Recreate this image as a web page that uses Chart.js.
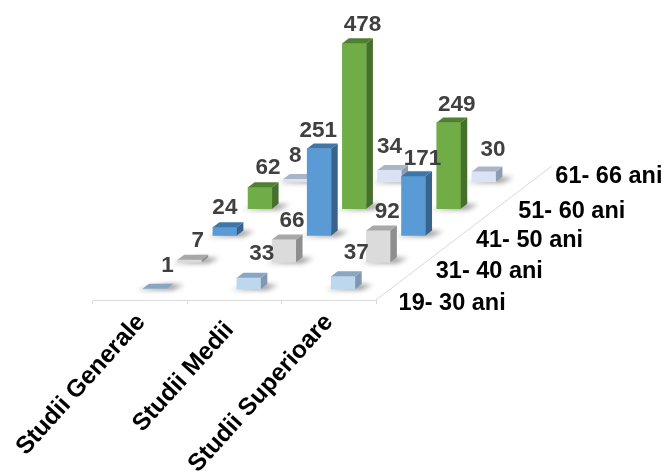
<!DOCTYPE html>
<html>
<head>
<meta charset="utf-8">
<title>Chart</title>
<script src="https://cdn.jsdelivr.net/npm/chart.js@4"></script>
<style>
  html, body { margin: 0; padding: 0; background: #fff; }
  canvas { display: block; }
</style>
</head>
<body>
<canvas id="myChart" width="666" height="471"></canvas>
<script>
var categories = ['Studii Generale', 'Studii Medii', 'Studii Superioare'];
var ageGroups = ['19- 30 ani', '31- 40 ani', '41- 50 ani', '51- 60 ani', '61- 66 ani'];
var ani19to30 = [1, 33, 37];
var ani31to40 = [7, 66, 92];
var ani41to50 = [24, 251, 171];
var ani51to60 = [62, 478, 249];
var ani61to66 = [8, 34, 30];
var seriesValues = [ani19to30, ani31to40, ani41to50, ani51to60, ani61to66];

// front, top and side colour of each row
var frontColors = ['#bdd7ee', '#dbdbdb', '#5b9bd5', '#70ad47', '#dae3f3'];
var topColors = ['#8aa5c0', '#a8a8a8', '#3f76a8', '#4f7f31', '#aab6c8'];
var sideColors = ['#7f97b0', '#8e8e8e', '#38648c', '#466f2b', '#8f9bae'];

// the floor is skewed: one row back moves this far in scale units
var ROW_X = 0.373;
var ROW_Y = 77.5;
var BAR_DEPTH_X = 0.069;
var BAR_DEPTH_Y = 14.5;

// hand placed labels, pixels from the top middle of the bar / the axis
var valueNudge = [
    [[13, -23], [13, -24], [13, -24]],
    [[8, -19], [8, -19], [9, -19]],
    [[0, -19], [-1, -18], [9, -18]],
    [[8, -19], [8, -18], [8, -18]],
    [[0, -23], [0, -23], [9, -22]]
];
var rowLabelNudge = [[5, 17], [7, 12], [12, 8], [19, 5], [21, -3]];
var categoryNudge = [[1, 18], [-5, 26], [0, 18]];

var datasets = seriesValues.map(function (values, row) {
    return {
        label: ageGroups[row],
        xAxisID: 'x',
        yAxisID: 'y',
        backgroundColor: frontColors[row],
        barThickness: 24,
        grouped: false,
        clip: false,
        data: values.map(function (v, c) {
            var floor = ROW_Y * (row + 0.5) - BAR_DEPTH_Y / 2;
            return { x: c + ROW_X * (row + 0.5) - BAR_DEPTH_X / 2, y: [floor, floor + v] };
        })
    };
});

function depthPixels(chart) {
    var sx = chart.scales.x, sy = chart.scales.y;
    return {
        dx: sx.getPixelForValue(BAR_DEPTH_X) - sx.getPixelForValue(0),
        dy: sy.getPixelForValue(BAR_DEPTH_Y) - sy.getPixelForValue(0)
    };
}

function poly(ctx, pts, color) {
    ctx.fillStyle = color;
    ctx.beginPath();
    ctx.moveTo(pts[0][0], pts[0][1]);
    for (var i = 1; i < pts.length; i++) ctx.lineTo(pts[i][0], pts[i][1]);
    ctx.closePath();
    ctx.fill();
}

var bars3d = {
    id: 'bars3d',
    beforeDatasetsDraw: function (chart) {
        // depth axis line on the right of the floor
        var sx = chart.scales.x, sy = chart.scales.y, ctx = chart.ctx;
        ctx.save();
        ctx.strokeStyle = '#d9d9d9';
        ctx.lineWidth = 1;
        ctx.beginPath();
        ctx.moveTo(sx.getPixelForValue(2.5), sy.getPixelForValue(0));
        ctx.lineTo(sx.getPixelForValue(2.5 + ROW_X * 5), sy.getPixelForValue(ROW_Y * 5));
        ctx.stroke();
        ctx.restore();
    },
    beforeDatasetDraw: function (chart, args) {
        // soft shadow on the floor
        var ctx = chart.ctx, d = depthPixels(chart);
        ctx.save();
        ctx.filter = 'blur(2.5px)';
        chart.getDatasetMeta(args.index).data.forEach(function (bar) {
            var l = bar.x - bar.width / 2, r = bar.x + bar.width / 2, b = bar.base;
            poly(ctx, [[l - 6, b + 1], [r + 6, b + 1], [r + d.dx + 11, b + d.dy + 1], [r, b + d.dy]], 'rgba(0,0,0,0.4)');
        });
        ctx.restore();
    },
    afterDatasetDraw: function (chart, args) {
        var ctx = chart.ctx, d = depthPixels(chart);
        chart.getDatasetMeta(args.index).data.forEach(function (bar) {
            var l = bar.x - bar.width / 2, r = bar.x + bar.width / 2, t = bar.y, b = bar.base;
            poly(ctx, [[r, t], [r + d.dx, t + d.dy], [r + d.dx, b + d.dy], [r, b]], sideColors[args.index]);
            poly(ctx, [[l, t], [l + d.dx, t + d.dy], [r + d.dx, t + d.dy], [r, t]], topColors[args.index]);
        });
    },
    afterDraw: function (chart) {
        var ctx = chart.ctx, sx = chart.scales.x, sy = chart.scales.y, cat = chart.scales.cat;
        ctx.save();
        ctx.textBaseline = 'middle';
        ctx.textAlign = 'center';
        ctx.font = 'bold 22.5px "Liberation Sans"';
        ctx.fillStyle = '#404040';
        seriesValues.forEach(function (values, row) {
            var bars = chart.getDatasetMeta(row).data;
            values.forEach(function (v, c) {
                var n = valueNudge[row][c];
                ctx.fillText(String(v), bars[c].x + n[0], bars[c].y + n[1]);
            });
        });
        // row names along the depth axis
        ctx.textAlign = 'left';
        ctx.fillStyle = '#000';
        ctx.font = 'bold 23.5px "Liberation Sans"';
        ageGroups.forEach(function (name, row) {
            var n = rowLabelNudge[row];
            ctx.fillText(name,
                sx.getPixelForValue(2.5 + ROW_X * (row + 0.5)) + n[0],
                sy.getPixelForValue(ROW_Y * (row + 0.5)) + n[1]);
        });
        // slanted category names, their right end sits under the tick
        ctx.textAlign = 'right';
        ctx.font = 'bold 24.5px "Liberation Sans"';
        categories.forEach(function (name, c) {
            var n = categoryNudge[c];
            ctx.save();
            ctx.translate(cat.getPixelForTick(c) + n[0], cat.top + n[1]);
            ctx.rotate(-48 * Math.PI / 180);
            ctx.fillText(name, 0, 0);
            ctx.restore();
        });
        ctx.restore();
    }
};

var myChart = new Chart(document.getElementById('myChart').getContext('2d'), {
    type: 'bar',
    data: { labels: categories, datasets: datasets },
    plugins: [bars3d],
    options: {
        responsive: false,
        animation: false,
        layout: { autoPadding: false, padding: { left: 93, right: 290, top: 0, bottom: 0 } },
        plugins: { legend: { display: false }, tooltip: { enabled: false } },
        scales: {
            x: { type: 'linear', display: false, offset: false, min: -0.5, max: 2.5 },
            y: { type: 'linear', display: false, min: 0, max: 867 },
            cat: {
                type: 'category',
                position: 'bottom',
                offset: true,
                afterFit: function (scale) { scale.height = 171; },
                border: { color: '#d9d9d9' },
                grid: { drawOnChartArea: false, offset: true, tickLength: 4, color: '#d9d9d9' },
                ticks: { display: false }
            }
        }
    }
});
</script>
</body>
</html>
